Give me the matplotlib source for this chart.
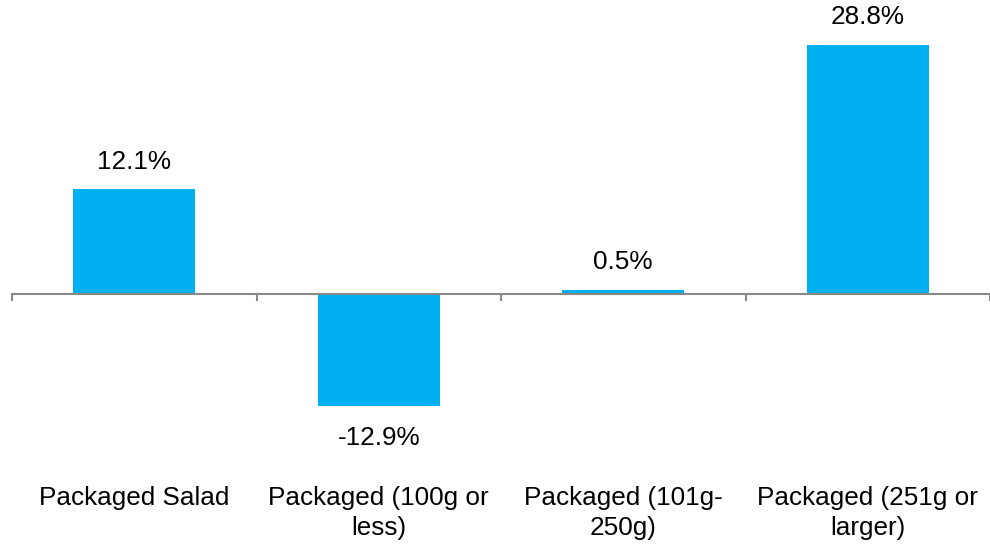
import matplotlib.pyplot as plt
import numpy as np

categories = ["Packaged Salad", "Packaged (100g or\nless)", "Packaged (101g-\n250g)", "Packaged (251g or\nlarger)"]
growth = [12.1, -12.9, 0.5, 28.8]
value_labels = ["12.1%", "-12.9%", "0.5%", "28.8%"]

plt.rcParams['font.family'] = ['Liberation Sans', 'DejaVu Sans']

fig = plt.figure(figsize=(9.9, 5.51), dpi=100)
ax = fig.add_axes([12 / 990, 0, 978 / 990, 1])

x = np.arange(len(categories))
bars = ax.bar(x, growth, width=0.5, color="#00B0F0", zorder=1)

ax.set_xlim(-0.5, len(categories) - 0.5)
ax.set_ylim(-29.7, 34.0)

for spine in ["top", "right", "left"]:
    ax.spines[spine].set_visible(False)
ax.spines["bottom"].set_position(("data", 0))
ax.spines["bottom"].set_color("#898989")
ax.spines["bottom"].set_linewidth(1.5)
ax.spines["bottom"].set_zorder(2)

ax.set_yticks([])
ax.set_xticks([])
ax.set_xticks(np.arange(-0.5, len(categories)), minor=True)
ax.tick_params(axis="x", which="minor", direction="out", length=5, width=1.5,
               color="#898989", labelbottom=False)

for b, v, lab in zip(bars, growth, value_labels):
    off = 20 if v >= 0 else -23
    ax.annotate(lab, (b.get_x() + b.get_width() / 2, v), xytext=(0, off),
                textcoords="offset points", ha="center", va="center", fontsize=18.8)

for xi, cat in zip(x, categories):
    ax.text(xi, -22.2, cat, ha="center", va="top", fontsize=18.8,
            linespacing=1.3, transform=ax.transData)

fig.savefig("out.png", dpi=100)
